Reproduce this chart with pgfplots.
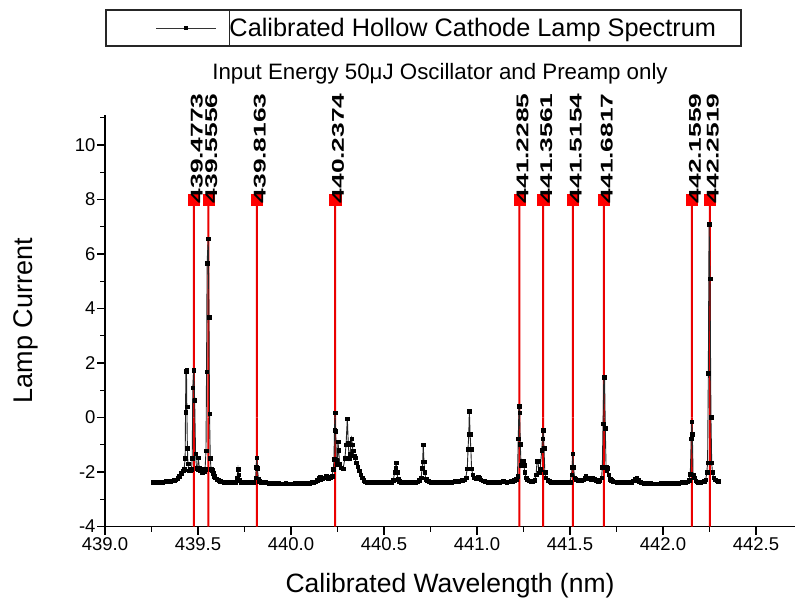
\documentclass[border=0pt]{standalone}
\usepackage{pgfplots}
\pgfplotsset{compat=1.18}
\usepackage{fontspec}
\setmainfont{Liberation Sans}
\begin{document}
\begin{tikzpicture}[x=1pt,y=1pt]
\useasboundingbox (0,0) rectangle (798,598);
\node[anchor=base, font=\fontsize{22.3}{26}\selectfont] at (440,598-80) {Input Energy 50μJ Oscillator and Preamp only};
\begin{axis}[
  at={(105pt,71.5pt)}, anchor=south west,
  width=690pt, height=411.5pt, scale only axis,
  xmin=439, xmax=442.71, ymin=-4, ymax=11.1,
  axis x line*=bottom, axis y line*=left,
  axis line style={black, line width=1.3pt},
  xtick distance=0.5, minor x tick num=1,
  ytick distance=2, minor y tick num=1,
  tick align=outside, major tick length=8pt, minor tick length=5pt,
  tick style={black, line width=1.3pt},
  every tick label/.append style={font=\fontsize{18.5}{21}\selectfont},
  yticklabel style={xshift=2pt},
  /pgf/number format/assume math mode=true,
  xticklabel style={/pgf/number format/.cd, fixed, fixed zerofill, precision=1},
  yticklabel style={/pgf/number format/.cd, fixed, precision=0},
  xlabel={Calibrated Wavelength (nm)},
  ylabel={Lamp Current},
  xlabel style={font=\fontsize{26.5}{30}\selectfont, at={(axis description cs:0.5,-0.1606)}, anchor=base},
  ylabel style={font=\fontsize{27}{30}\selectfont, at={(axis description cs:-0.1377,0.5)}, anchor=north},
  clip=false,
  legend style={at={(axis description cs:0,1.2564)}, anchor=north west,
    draw=black!85, line width=1.2pt, inner xsep=0pt, inner ysep=0pt,
    nodes={inner sep=0pt}, font=\fontsize{25.3}{29}\selectfont},
  legend image code/.code={
    \path (0pt,-17.5pt) rectangle (123pt,17.5pt);
    \draw[black!80, line width=0.8pt] (50pt,0pt) -- (110pt,0pt);
    \fill[black] (78pt,-1.6pt) rectangle (81.2pt,1.6pt);
  },
]
\addplot[ybar, bar width=2pt, bar shift=0pt, fill=red!92!black, draw=none, forget plot]
  coordinates {(439.4773,8) (439.5556,8) (439.8163,8) (440.2374,8) (441.2285,8)
  (441.3561,8) (441.5154,8) (441.6817,8) (442.1559,8) (442.2519,8)};
\addplot[ybar, bar width=2pt, bar shift=0pt, fill=red!92!black, draw=none, forget plot]
  coordinates {(439.4773,-4) (439.5556,-4) (439.8163,-4) (440.2374,-4) (441.2285,-4)
  (441.3561,-4) (441.5154,-4) (441.6817,-4) (442.1559,-4) (442.2519,-4)};
\addplot[black!85, line width=0.9pt, mark=square*, mark size=1.8pt,
  mark options={black, fill=black, line width=0.2pt}] coordinates {
(439.26,-2.37) (439.27,-2.38) (439.28,-2.37) (439.29,-2.36) (439.30,-2.37)
(439.31,-2.36) (439.32,-2.35) (439.33,-2.34) (439.34,-2.35) (439.35,-2.33)
(439.36,-2.32) (439.37,-2.30) (439.38,-2.28) (439.39,-2.22) (439.40,-2.15)
(439.41,-2.05) (439.42,-1.95) (439.425,-1.90) (439.431,-1.50) (439.433,0.20)
(439.435,1.70) (439.438,1.74) (439.440,0.40) (439.443,-1.12) (439.446,-1.69)
(439.450,-1.95) (439.455,-1.90) (439.460,-1.95) (439.465,-1.90) (439.469,-1.50)
(439.472,1.09) (439.477,1.74) (439.482,0.64) (439.487,-1.32) (439.492,-1.85)
(439.497,-1.90) (439.502,-1.47) (439.507,-1.85) (439.512,-1.95) (439.517,-1.90)
(439.522,-2.00) (439.527,-1.92) (439.532,-1.98) (439.538,-1.90) (439.543,-1.22)
(439.546,1.68) (439.549,5.66) (439.555,6.57) (439.559,3.69) (439.562,0.14)
(439.566,-1.48) (439.570,-1.90) (439.575,-1.93) (439.580,-2.05) (439.585,-2.15)
(439.590,-2.20) (439.60,-2.25) (439.61,-2.30) (439.62,-2.33) (439.63,-2.35)
(439.64,-2.36) (439.65,-2.38) (439.66,-2.37) (439.67,-2.38) (439.68,-2.39)
(439.69,-2.37) (439.70,-2.36) (439.71,-2.20) (439.715,-1.90) (439.718,-2.10)
(439.72,-2.30) (439.73,-2.37) (439.74,-2.38) (439.75,-2.39) (439.76,-2.38)
(439.77,-2.37) (439.78,-2.39) (439.79,-2.38) (439.80,-2.36) (439.81,-2.20)
(439.813,-1.83) (439.816,-1.47) (439.819,-1.85) (439.825,-2.25) (439.83,-2.33)
(439.84,-2.36) (439.85,-2.37) (439.86,-2.38) (439.87,-2.39) (439.88,-2.40)
(439.89,-2.39) (439.90,-2.41) (439.91,-2.40) (439.92,-2.42) (439.93,-2.41)
(439.94,-2.42) (439.95,-2.43) (439.96,-2.42) (439.97,-2.41) (439.98,-2.43)
(439.99,-2.42) (440.00,-2.43) (440.01,-2.42) (440.02,-2.41) (440.03,-2.42)
(440.04,-2.40) (440.05,-2.41) (440.06,-2.40) (440.07,-2.41) (440.08,-2.40)
(440.09,-2.39) (440.10,-2.40) (440.11,-2.38) (440.12,-2.36) (440.13,-2.35)
(440.14,-2.30) (440.15,-2.22) (440.155,-2.18) (440.16,-2.25) (440.17,-2.24)
(440.18,-2.20) (440.19,-2.16) (440.20,-2.22) (440.21,-2.18) (440.22,-2.15)
(440.228,-1.90) (440.231,-1.53) (440.234,-0.47) (440.237,0.18) (440.240,-0.49)
(440.244,-1.55) (440.249,-1.70) (440.253,-0.88) (440.256,-1.19) (440.262,-1.70)
(440.270,-1.84) (440.280,-1.88) (440.290,-1.50) (440.296,-1.00) (440.303,-0.04)
(440.308,-0.95) (440.313,-1.50) (440.318,-1.35) (440.322,-1.00) (440.326,-0.78)
(440.330,-1.00) (440.333,-1.22) (440.338,-1.40) (440.344,-1.47) (440.350,-1.65)
(440.358,-1.80) (440.366,-1.95) (440.375,-2.10) (440.382,-2.20) (440.39,-2.30)
(440.40,-2.35) (440.41,-2.37) (440.42,-2.38) (440.43,-2.37) (440.44,-2.39)
(440.45,-2.38) (440.46,-2.37) (440.47,-2.38) (440.48,-2.39) (440.49,-2.37)
(440.50,-2.38) (440.51,-2.37) (440.52,-2.38) (440.53,-2.37) (440.54,-2.36)
(440.55,-2.30) (440.558,-2.00) (440.562,-1.85) (440.565,-1.65) (440.569,-2.00)
(440.575,-2.25) (440.58,-2.33) (440.59,-2.36) (440.60,-2.37) (440.61,-2.38)
(440.62,-2.37) (440.63,-2.36) (440.64,-2.37) (440.65,-2.38) (440.66,-2.36)
(440.67,-2.37) (440.68,-2.35) (440.69,-2.30) (440.70,-2.20) (440.705,-1.86)
(440.708,-1.62) (440.711,-1.00) (440.715,-1.62) (440.719,-2.00) (440.725,-2.25)
(440.73,-2.30) (440.74,-2.34) (440.75,-2.36) (440.76,-2.37) (440.77,-2.36)
(440.78,-2.37) (440.79,-2.36) (440.80,-2.37) (440.81,-2.36) (440.82,-2.37)
(440.83,-2.35) (440.84,-2.36) (440.85,-2.35) (440.86,-2.36) (440.87,-2.35)
(440.88,-2.34) (440.89,-2.33) (440.90,-2.34) (440.91,-2.32) (440.92,-2.30)
(440.93,-2.28) (440.94,-2.20) (440.948,-1.87) (440.952,-1.15) (440.956,-0.60)
(440.959,0.24) (440.963,-0.60) (440.967,-1.15) (440.971,-1.87) (440.977,-2.10)
(440.985,-2.20) (440.995,-2.22) (441.005,-2.18) (441.01,-2.22) (441.02,-2.28)
(441.03,-2.32) (441.04,-2.34) (441.05,-2.35) (441.06,-2.36) (441.07,-2.35)
(441.08,-2.36) (441.09,-2.37) (441.10,-2.36) (441.11,-2.35) (441.12,-2.36)
(441.13,-2.35) (441.14,-2.34) (441.15,-2.35) (441.16,-2.36) (441.17,-2.35)
(441.18,-2.34) (441.19,-2.33) (441.20,-2.30) (441.21,-2.25) (441.218,-2.14)
(441.222,-0.77) (441.226,0.42) (441.229,0.18) (441.233,-0.97) (441.237,-1.75)
(441.242,-1.61) (441.247,-1.61) (441.252,-1.75) (441.257,-2.00) (441.263,-2.20)
(441.27,-2.28) (441.28,-2.32) (441.29,-2.34) (441.30,-2.33) (441.31,-2.30)
(441.318,-2.10) (441.323,-1.59) (441.328,-1.59) (441.333,-2.02) (441.340,-1.90)
(441.348,-1.20) (441.352,-0.78) (441.356,-0.47) (441.360,-1.12) (441.365,-2.00)
(441.37,-2.20) (441.38,-2.30) (441.39,-2.34) (441.40,-2.36) (441.41,-2.37)
(441.42,-2.38) (441.43,-2.37) (441.44,-2.38) (441.45,-2.39) (441.46,-2.38)
(441.47,-2.37) (441.48,-2.39) (441.49,-2.38) (441.50,-2.36) (441.508,-2.10)
(441.512,-1.83) (441.515,-1.32) (441.519,-1.83) (441.525,-2.20) (441.53,-2.27)
(441.54,-2.30) (441.55,-2.32) (441.56,-2.30) (441.57,-2.28) (441.58,-2.22)
(441.585,-2.16) (441.59,-2.24) (441.60,-2.20) (441.61,-2.26) (441.62,-2.22)
(441.63,-2.25) (441.64,-2.30) (441.65,-2.33) (441.66,-2.30) (441.67,-2.20)
(441.674,-1.83) (441.678,-0.22) (441.682,1.48) (441.686,1.48) (441.690,-0.40)
(441.694,-1.80) (441.697,-1.92) (441.703,-1.85) (441.708,-2.10) (441.715,-2.25)
(441.72,-2.30) (441.73,-2.33) (441.74,-2.35) (441.75,-2.36) (441.76,-2.37)
(441.77,-2.38) (441.78,-2.37) (441.79,-2.38) (441.80,-2.39) (441.81,-2.38)
(441.82,-2.37) (441.83,-2.36) (441.84,-2.32) (441.85,-2.27) (441.858,-2.22)
(441.865,-2.30) (441.87,-2.35) (441.88,-2.38) (441.89,-2.39) (441.90,-2.40)
(441.91,-2.41) (441.92,-2.42) (441.93,-2.41) (441.94,-2.42) (441.95,-2.43)
(441.96,-2.42) (441.97,-2.43) (441.98,-2.42) (441.99,-2.41) (442.00,-2.42)
(442.01,-2.41) (442.02,-2.40) (442.03,-2.41) (442.04,-2.42) (442.05,-2.41)
(442.06,-2.40) (442.07,-2.39) (442.08,-2.40) (442.09,-2.39) (442.10,-2.38)
(442.11,-2.39) (442.12,-2.37) (442.13,-2.35) (442.14,-2.30) (442.147,-2.07)
(442.152,-0.78) (442.155,-0.15) (442.158,-0.60) (442.162,-2.10) (442.167,-2.20)
(442.175,-2.32) (442.18,-2.35) (442.19,-2.37) (442.20,-2.36) (442.21,-2.35)
(442.22,-2.33) (442.23,-2.28) (442.236,-2.00) (442.240,-1.65) (442.244,1.64)
(442.248,7.10) (442.253,5.10) (442.258,0.02) (442.262,-1.65) (442.266,-2.00)
(442.272,-2.20) (442.28,-2.28) (442.29,-2.32) (442.298,-2.34)
};
\addlegendentry{Calibrated Hollow Cathode Lamp Spectrum\hspace*{25pt}\mbox{}}
\addplot[only marks, red, mark=square*, mark size=5.6pt, mark options={fill=red, draw=red},
  point meta=explicit symbolic, forget plot,
  nodes near coords={\scalebox{1.55}[1]{\pgfplotspointmeta}},
  nodes near coords style={rotate=90, anchor=west, inner sep=0pt, black,
    font=\fontsize{17}{20}\selectfont\bfseries, xshift=-4pt, yshift=-3pt}]
  coordinates {
(439.4773,8) [439.4773]
(439.5556,8) [439.5556]
(439.8163,8) [439.8163]
(440.2374,8) [440.2374]
(441.2285,8) [441.2285]
(441.3561,8) [441.3561]
(441.5154,8) [441.5154]
(441.6817,8) [441.6817]
(442.1559,8) [442.1559]
(442.2519,8) [442.2519]
};
\end{axis}
\end{tikzpicture}
\end{document}
